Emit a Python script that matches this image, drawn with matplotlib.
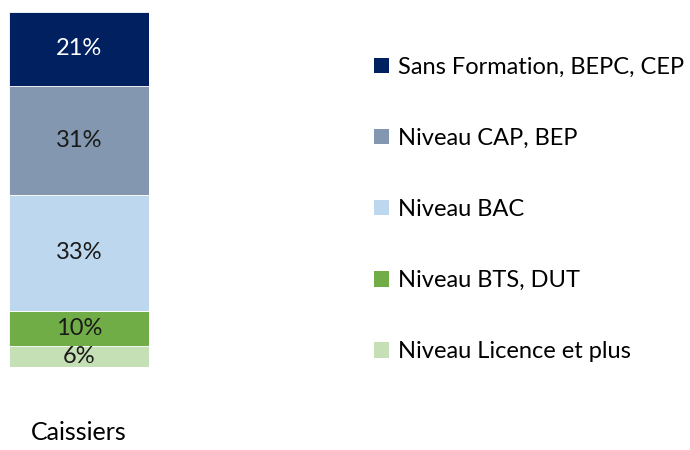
import matplotlib
matplotlib.use("Agg")
import matplotlib.pyplot as plt
from matplotlib.patches import Patch

plt.rcParams['font.family'] = ['Lato', 'DejaVu Sans']

category = "Caissiers"
levels = ["Niveau Licence et plus", "Niveau BTS, DUT", "Niveau BAC",
          "Niveau CAP, BEP", "Sans Formation, BEPC, CEP"]
values = [6, 10, 33, 31, 21]
colors = ["#C5E0B4", "#70AD47", "#BDD7EE", "#8497B0", "#002060"]
text_colors = ["#1a1a1a", "#1a1a1a", "#1a1a1a", "#1a1a1a", "white"]

fig = plt.figure(figsize=(6.9, 4.5), dpi=100)
ax = fig.add_axes([9/690, (450-367)/450, 140/690, 355/450])

bottom = 0
for lab, v, c, tc in zip(levels, values, colors, text_colors):
    ax.bar(0, v, bottom=bottom, width=1.0, color=c, edgecolor="white", linewidth=0.6, label=lab)
    ax.text(0, bottom + v/2, f"{v}%", ha="center", va="center", fontsize=17, color=tc)
    bottom += v

ax.set_xlim(-0.5, 0.5)
ax.set_ylim(0, sum(values))
ax.set_xticks([0])
ax.set_xticklabels([category], fontsize=18)
ax.tick_params(axis="x", length=0, pad=39)
ax.set_yticks([])
for s in ax.spines.values():
    s.set_visible(False)

handles = [Patch(facecolor=c, edgecolor="none") for c in colors][::-1]
labels = levels[::-1]
fig.legend(handles, labels, loc="upper left", bbox_to_anchor=(374/690, 1 - 57/450),
           frameon=False, fontsize=17, handlelength=0.62, handleheight=0.62,
           handletextpad=0.4, labelspacing=2.12, borderaxespad=0, borderpad=0)

fig.savefig("out.png", dpi=100, facecolor="white")
